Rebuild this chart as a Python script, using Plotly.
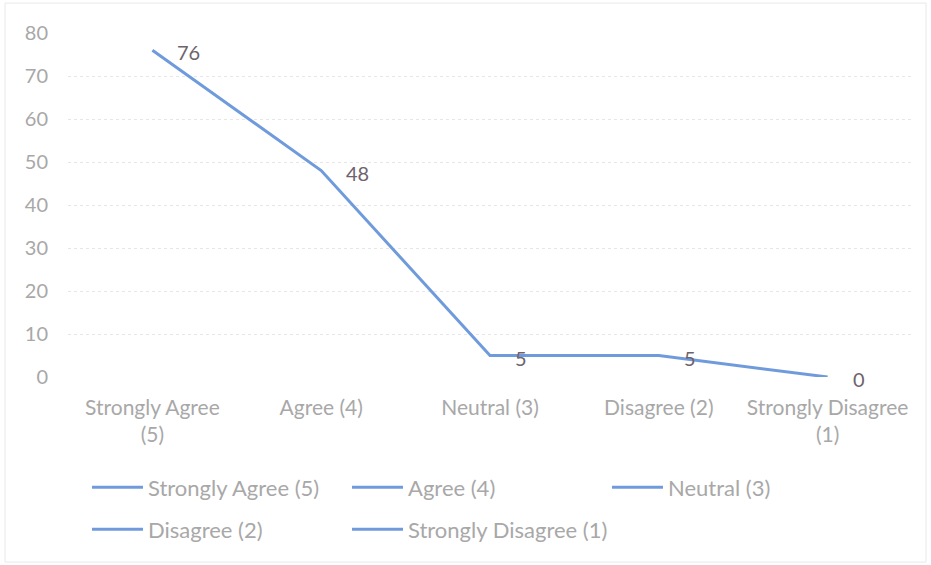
import plotly.graph_objects as go

categories = ["Strongly Agree (5)", "Agree (4)", "Neutral (3)", "Disagree (2)", "Strongly Disagree (1)"]
tick_labels = ["Strongly Agree<br>(5)", "Agree (4)", "Neutral (3)", "Disagree (2)", "Strongly Disagree<br>(1)"]
values = [76, 48, 5, 5, 0]
y_ticks = [0, 10, 20, 30, 40, 50, 60, 70, 80]

LINE = "#6f9bdc"
FONT = "Lato, Open Sans, sans-serif"
GREY = "#a8a8a8"

fig = go.Figure()
fig.add_trace(go.Scatter(x=categories, y=values, mode="lines",
                         line=dict(color=LINE, width=3), showlegend=False,
                         hoverinfo="x+y"))

for i, name in enumerate(categories):
    fig.add_trace(go.Scatter(x=[None], y=[None], mode="lines", name=name,
                             line=dict(color=LINE, width=3),
                             legend="legend" if i < 3 else "legend2"))

for c, v in zip(categories, values):
    fig.add_annotation(x=c, y=v, text=str(v), showarrow=False, xanchor="left",
                       xshift=23, yshift=-2, font=dict(family=FONT, size=20, color="#6e636c"))

fig.update_layout(
    width=931, height=565,
    margin=dict(l=68, r=19, t=33, b=188),
    paper_bgcolor="white", plot_bgcolor="white",
    font=dict(family=FONT, size=20, color=GREY),
    xaxis=dict(tickmode="array", tickvals=categories, ticktext=tick_labels,
               range=[-0.5, 4.5], showgrid=False, showline=False, zeroline=False,
               ticks="", ticklabelstandoff=16,
               tickfont=dict(size=21, color=GREY), fixedrange=True),
    yaxis=dict(range=[0, 80], tickvals=y_ticks, showgrid=True, gridcolor="#e6e6e6",
               griddash="dot", gridwidth=1, zeroline=False, showline=False,
               ticks="", ticklabelstandoff=19, tickfont=dict(size=20, color=GREY)),
    legend=dict(orientation="h", x=0.0225, y=-0.26, xanchor="left", yanchor="top",
                entrywidth=194, entrywidthmode="pixels", itemwidth=51,
                font=dict(size=22, color=GREY), bgcolor="rgba(0,0,0,0)"),
    legend2=dict(orientation="h", x=0.0225, y=-0.382, xanchor="left", yanchor="top",
                 entrywidth=194, entrywidthmode="pixels", itemwidth=51,
                 font=dict(size=22, color=GREY), bgcolor="rgba(0,0,0,0)"),
    shapes=[dict(type="rect", xref="paper", yref="paper", x0=-0.0746, x1=1.0166,
                 y0=-0.538, y1=1.087, line=dict(color="#e8e8e8", width=1))],
)

fig.write_html("out.html", config={"displayModeBar": False},
               post_script="document.body.style.margin='0';")
